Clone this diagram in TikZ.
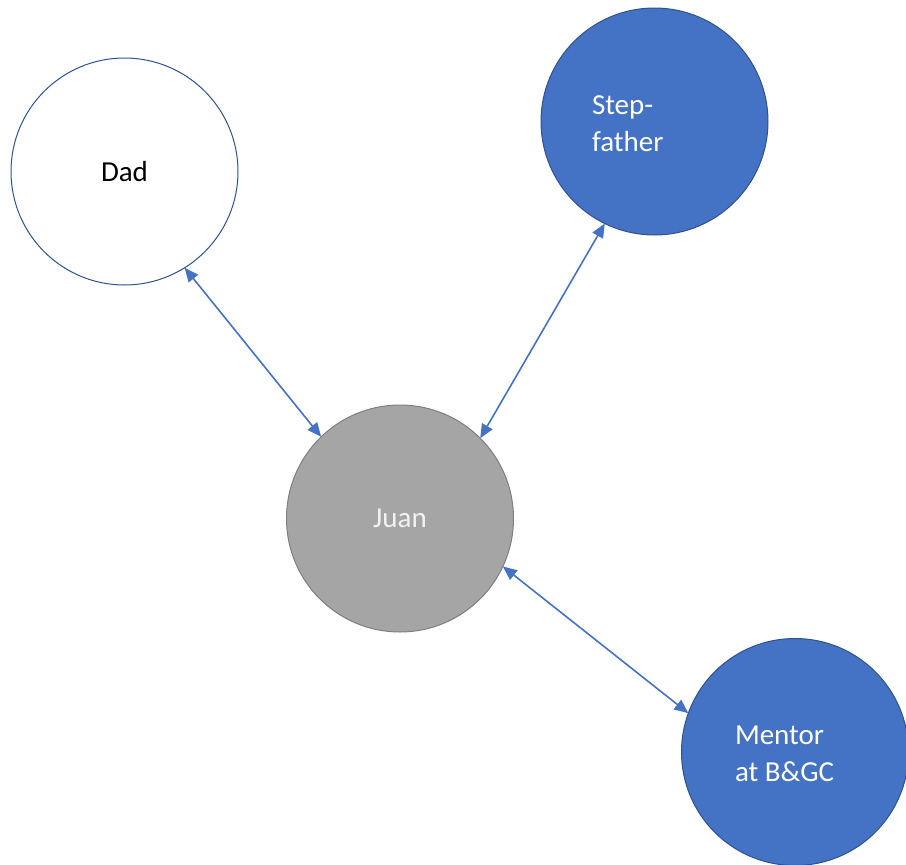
\documentclass[tikz,border=0pt]{standalone}
\usepackage{fontspec}
\setmainfont{Carlito}
\usetikzlibrary{arrows.meta}
\definecolor{accent}{HTML}{4472C4}
\definecolor{accentdark}{HTML}{2F528F}
\definecolor{grayfill}{HTML}{A5A5A5}
\definecolor{graydark}{HTML}{7F7F7F}
\begin{document}
\begin{tikzpicture}[x=1pt,y=-1pt,
  person/.style={circle, minimum size=227pt, inner sep=0pt, outer sep=0pt, line width=1pt,
    font=\fontsize{29}{37}\selectfont},
  bluecircle/.style={person, fill=accent, draw=accentdark, text=white},
  whitecircle/.style={person, fill=white, draw=accentdark, text=black},
  graycircle/.style={person, fill=grayfill, draw=graydark, text=white!95!black},
  lbl/.style={inner sep=0pt, outer sep=0pt, align=left, text=white, anchor=west,
    font=\fontsize{29}{37}\selectfont},
  link/.style={draw=accent, line width=1.6pt, {Triangle[length=14pt,width=12pt]}-{Triangle[length=14pt,width=12pt]}}
]
\useasboundingbox (0,0) rectangle (906,865);

% people
\node[whitecircle] (dad) at (124.5,171.5) {Dad};
\node[bluecircle] (step) at (654.5,121.5) {};
\node[graycircle] (juan) at (400,518.5) {Juan};
\node[bluecircle] (mentor) at (795,752) {};

% labels of the blue circles
\node[lbl] (steptext) at (592,124) {Step-\\father};
\node[lbl] (mentortext) at (735,754) {Mentor\\at B\&GC};

% relationships
\draw[link] (dad.-58.8) -- (juan.134.5);
\draw[link] (step.-116.5) -- (juan.45.5);
\draw[link] (juan.-25.7) -- (mentor.160.8);
\end{tikzpicture}
\end{document}
